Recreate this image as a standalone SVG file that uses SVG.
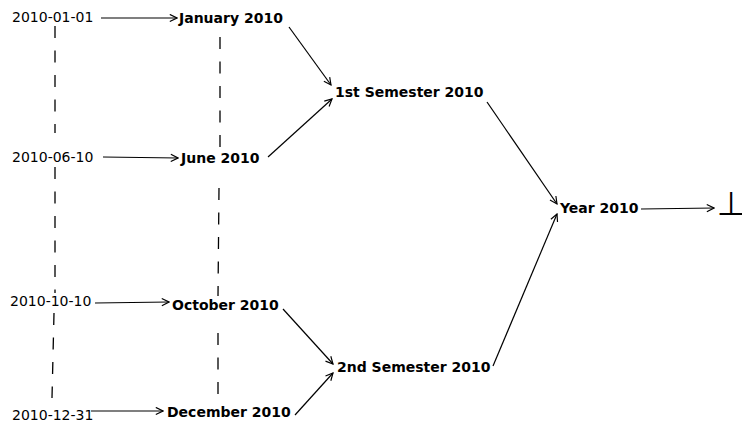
<svg xmlns="http://www.w3.org/2000/svg" width="742" height="430" viewBox="0 0 742 430">
<style>
text{font-family:"DejaVu Sans","Liberation Sans",sans-serif;font-size:14px;fill:#000}
.b{font-weight:bold}
.c{stroke:#000;stroke-width:1.2;fill:none}
.d{stroke:#000;stroke-width:1.3;fill:none;stroke-dasharray:12 12.5}
</style>
<defs>
<marker id="ah" viewBox="0 0 10 10" refX="9" refY="5" markerWidth="9" markerHeight="9" markerUnits="userSpaceOnUse" orient="auto">
<path d="M1,1 L9,5 L1,9" fill="none" stroke="#000" stroke-width="1.3"/>
</marker>
</defs>
<rect width="742" height="430" fill="#fff"/>
<g id="timelines">
<path class="d" d="M55,26 L55,133"/>
<path class="d" d="M55,167 L55,293"/>
<path class="d" d="M54,313 L52,398"/>
<path class="d" d="M220,37 L220,147"/>
<path class="d" d="M219,188 L218,296"/>
<path class="d" d="M218,333 L218,395"/>
</g>
<g id="connectors">
<path class="c" marker-end="url(#ah)" d="M101,18 L177,18"/>
<path class="c" marker-end="url(#ah)" d="M103,157 L178,158"/>
<path class="c" marker-end="url(#ah)" d="M95,303 L169,302"/>
<path class="c" marker-end="url(#ah)" d="M91,411 L163,411"/>
<path class="c" marker-end="url(#ah)" d="M289,27 L331,85"/>
<path class="c" marker-end="url(#ah)" d="M268,157 L332,99"/>
<path class="c" marker-end="url(#ah)" d="M283,309 L333,364"/>
<path class="c" marker-end="url(#ah)" d="M295,415 L333,373"/>
<path class="c" marker-end="url(#ah)" d="M487,102 L557,204"/>
<path class="c" marker-end="url(#ah)" d="M493,366 L557,214"/>
<path class="c" marker-end="url(#ah)" d="M641,209 L714,208"/>
</g>
<g id="d20100101"><text x="12" y="22">2010-01-01</text></g>
<g id="d20100610"><text x="12" y="162">2010-06-10</text></g>
<g id="d20101010"><text x="10" y="306">2010-10-10</text></g>
<g id="d20101231"><text x="12" y="420">2010-12-31</text></g>
<g id="jan"><text class="b" x="179" y="23">January 2010</text></g>
<g id="jun"><text class="b" x="181" y="163">June 2010</text></g>
<g id="oct"><text class="b" x="172" y="310">October 2010</text></g>
<g id="dec"><text class="b" x="167" y="417">December 2010</text></g>
<g id="sem1"><text class="b" x="335" y="97">1st Semester 2010</text></g>
<g id="sem2"><text class="b" x="337" y="372">2nd Semester 2010</text></g>
<g id="year"><text class="b" x="560" y="213">Year 2010</text></g>
<g id="bottom"><text x="731" y="214.5" text-anchor="middle" style="font-size:33px">⊥</text></g>
</svg>
